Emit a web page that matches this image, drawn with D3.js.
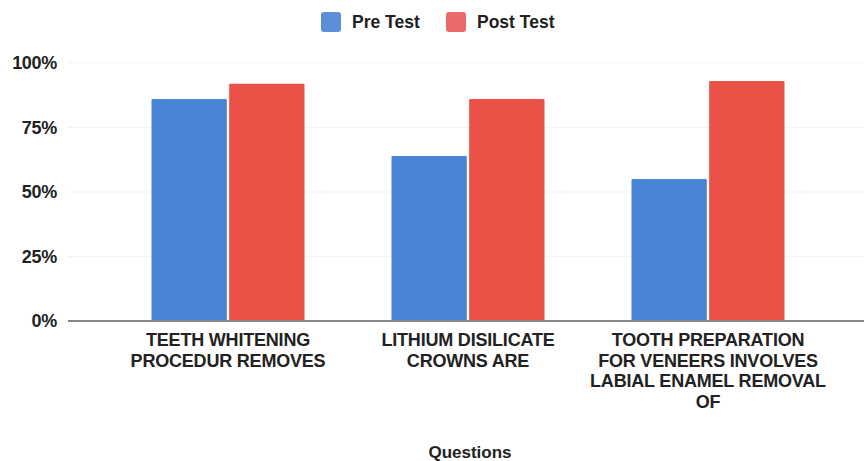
<!DOCTYPE html>
<html>
<head>
<meta charset="utf-8">
<script src="https://cdn.jsdelivr.net/npm/d3@7"></script>
<style>
	html, body { margin: 0; padding: 0; background: #fff; }
	svg { display: block; font-family: "Liberation Sans", Arial, sans-serif; }
</style>
</head>
<body>
<div id="chart"></div>
<script>
const questions = [
	['TEETH WHITENING', 'PROCEDUR REMOVES'],
	['LITHIUM DISILICATE', 'CROWNS ARE'],
	['TOOTH PREPARATION', 'FOR VENEERS INVOLVES', 'LABIAL ENAMEL REMOVAL', 'OF']
];
const seriesNames = ['Pre Test', 'Post Test'];
const preTest = [0.86, 0.64, 0.55];
const postTest = [0.92, 0.86, 0.93];
const yTicks = [0, 0.25, 0.5, 0.75, 1];
const colors = ['#4a85d5', '#ea5147'];
const legendColors = ['#5b8fd8', '#e96a68'];

const width = 864, height = 461;
const baseY = 321, topY = 63;

const svg = d3.select('#chart').append('svg')
	.attr('width', width)
	.attr('height', height);

const rows = questions.map((q, i) => ({ idx: i, label: q, values: [preTest[i], postTest[i]] }));

const x = d3.scaleBand().domain(rows.map(d => d.idx)).range([68, 868])
	.paddingInner(0.3625).paddingOuter(0.348);
const xInner = d3.scaleBand().domain([0, 1]).range([0, x.bandwidth()]).paddingInner(0.03);
const y = d3.scaleLinear().domain([0, 1]).range([baseY, topY]);

// faint gridlines
svg.append('g').selectAll('line').data(yTicks.slice(1)).join('line')
	.attr('x1', 68).attr('x2', width)
	.attr('y1', d => y(d)).attr('y2', d => y(d))
	.attr('stroke', '#f3f3f3').attr('stroke-width', 1);

// y tick labels
svg.append('g').selectAll('text').data(yTicks).join('text')
	.attr('x', 57)
	.attr('y', d => y(d))
	.attr('dy', '0.35em')
	.attr('text-anchor', 'end')
	.style('font-size', '18px')
	.style('font-weight', 'bold')
	.style('fill', '#222')
	.style('letter-spacing', '-0.3px')
	.text(d => d3.format('.0%')(d));

// bars
const groups = svg.append('g').selectAll('g').data(rows).join('g')
	.attr('transform', d => `translate(${x(d.idx)},0)`);

groups.selectAll('rect').data(d => d.values.map((v, s) => ({ s, v }))).join('rect')
	.attr('x', d => xInner(d.s))
	.attr('y', d => y(d.v))
	.attr('width', xInner.bandwidth())
	.attr('height', d => y(0) - y(d.v))
	.attr('rx', 1)
	.attr('fill', d => colors[d.s]);

// baseline
svg.append('line')
	.attr('x1', 68).attr('x2', width)
	.attr('y1', baseY).attr('y2', baseY)
	.attr('stroke', '#888').attr('stroke-width', 2);

// category labels
const labels = svg.append('g').selectAll('text').data(rows).join('text')
	.attr('text-anchor', 'middle')
	.style('font-size', '18px')
	.style('font-weight', 'bold')
	.style('fill', '#222')
	.style('letter-spacing', '-0.2px');

labels.selectAll('tspan').data(d => d.label.map(l => ({ l, cx: x(d.idx) + x.bandwidth() / 2 }))).join('tspan')
	.attr('x', d => d.cx)
	.attr('y', (d, i) => 346 + i * 20.5)
	.text(d => d.l);

// x axis title
svg.append('text')
	.attr('x', 470).attr('y', 458)
	.attr('text-anchor', 'middle')
	.style('font-size', '17px')
	.style('font-weight', 'bold')
	.style('fill', '#222')
	.text('Questions');

// legend
const legendX = [321, 446];
const legend = svg.append('g').selectAll('g').data(seriesNames).join('g')
	.attr('transform', (d, i) => `translate(${legendX[i]},12)`);

legend.append('rect')
	.attr('width', 20).attr('height', 20).attr('rx', 3)
	.attr('fill', (d, i) => legendColors[i]);

legend.append('text')
	.attr('x', 31).attr('y', 10).attr('dy', '0.35em')
	.style('font-size', '17.5px')
	.style('font-weight', 'bold')
	.style('fill', '#222')
	.text(d => d);
</script>
</body>
</html>
